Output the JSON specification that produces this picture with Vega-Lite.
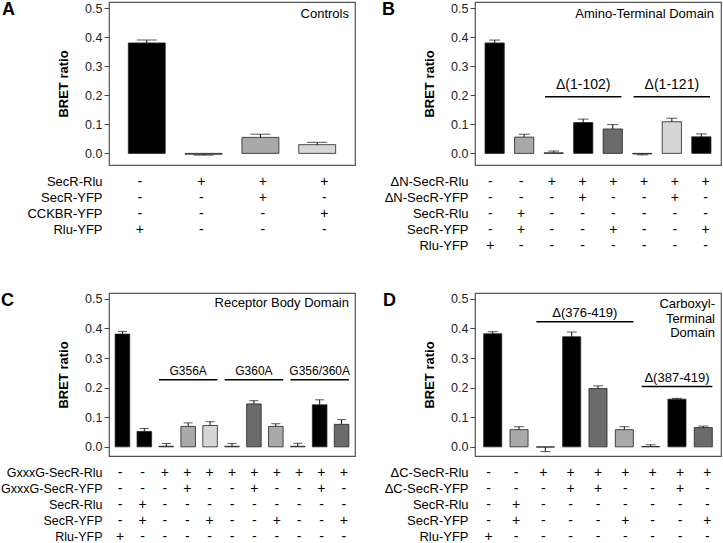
{
  "$schema": "https://vega.github.io/schema/vega-lite/v6.json",
  "background": "white",
  "padding": {"left": 0, "top": 0, "right": 0, "bottom": 0},
  "config": {
    "font": "Liberation Sans",
    "view": {"stroke": "#555", "strokeWidth": 1.2},
    "axis": {"labelColor": "#222", "tickColor": "#444", "titleColor": "#000"},
    "axisY": {"labelOverlap": false},
    "title": {"color": "#000"}
  },
  "datasets": {
    "A": [
      {"bar": 1, "value": 0.38, "err": 0.39, "shade": "k", "SecR-Rlu": "-", "SecR-YFP": "-", "CCKBR-YFP": "-", "Rlu-YFP": "+"},
      {"bar": 2, "value": -0.003, "err": -0.006, "shade": "d", "SecR-Rlu": "+", "SecR-YFP": "-", "CCKBR-YFP": "-", "Rlu-YFP": "-"},
      {"bar": 3, "value": 0.055, "err": 0.066, "shade": "m", "SecR-Rlu": "+", "SecR-YFP": "+", "CCKBR-YFP": "-", "Rlu-YFP": "-"},
      {"bar": 4, "value": 0.03, "err": 0.038, "shade": "l", "SecR-Rlu": "+", "SecR-YFP": "-", "CCKBR-YFP": "+", "Rlu-YFP": "-"}
    ],
    "B": [
      {"bar": 1, "value": 0.38, "err": 0.39, "shade": "k", "ΔN-SecR-Rlu": "-", "ΔN-SecR-YFP": "-", "SecR-Rlu": "-", "SecR-YFP": "-", "Rlu-YFP": "+"},
      {"bar": 2, "value": 0.056, "err": 0.066, "shade": "m", "ΔN-SecR-Rlu": "-", "ΔN-SecR-YFP": "-", "SecR-Rlu": "+", "SecR-YFP": "+", "Rlu-YFP": "-"},
      {"bar": 3, "value": 0.002, "err": 0.008, "shade": "d", "ΔN-SecR-Rlu": "+", "ΔN-SecR-YFP": "-", "SecR-Rlu": "-", "SecR-YFP": "-", "Rlu-YFP": "-"},
      {"bar": 4, "value": 0.106, "err": 0.118, "shade": "k", "ΔN-SecR-Rlu": "+", "ΔN-SecR-YFP": "+", "SecR-Rlu": "-", "SecR-YFP": "-", "Rlu-YFP": "-"},
      {"bar": 5, "value": 0.084, "err": 0.099, "shade": "d", "ΔN-SecR-Rlu": "+", "ΔN-SecR-YFP": "-", "SecR-Rlu": "-", "SecR-YFP": "+", "Rlu-YFP": "-"},
      {"bar": 6, "value": -0.002, "err": -0.005, "shade": "d", "ΔN-SecR-Rlu": "+", "ΔN-SecR-YFP": "-", "SecR-Rlu": "-", "SecR-YFP": "-", "Rlu-YFP": "-"},
      {"bar": 7, "value": 0.109, "err": 0.121, "shade": "l", "ΔN-SecR-Rlu": "+", "ΔN-SecR-YFP": "+", "SecR-Rlu": "-", "SecR-YFP": "-", "Rlu-YFP": "-"},
      {"bar": 8, "value": 0.057, "err": 0.067, "shade": "k", "ΔN-SecR-Rlu": "+", "ΔN-SecR-YFP": "-", "SecR-Rlu": "-", "SecR-YFP": "+", "Rlu-YFP": "-"}
    ],
    "C": [
      {"bar": 1, "value": 0.381, "err": 0.39, "shade": "k", "GxxxG-SecR-Rlu": "-", "GxxxG-SecR-YFP": "-", "SecR-Rlu": "-", "SecR-YFP": "-", "Rlu-YFP": "+"},
      {"bar": 2, "value": 0.052, "err": 0.062, "shade": "k", "GxxxG-SecR-Rlu": "-", "GxxxG-SecR-YFP": "-", "SecR-Rlu": "+", "SecR-YFP": "+", "Rlu-YFP": "-"},
      {"bar": 3, "value": 0.002, "err": 0.011, "shade": "d", "GxxxG-SecR-Rlu": "+", "GxxxG-SecR-YFP": "-", "SecR-Rlu": "-", "SecR-YFP": "-", "Rlu-YFP": "-"},
      {"bar": 4, "value": 0.069, "err": 0.081, "shade": "m", "GxxxG-SecR-Rlu": "+", "GxxxG-SecR-YFP": "+", "SecR-Rlu": "-", "SecR-YFP": "-", "Rlu-YFP": "-"},
      {"bar": 5, "value": 0.072, "err": 0.085, "shade": "l", "GxxxG-SecR-Rlu": "+", "GxxxG-SecR-YFP": "-", "SecR-Rlu": "-", "SecR-YFP": "+", "Rlu-YFP": "-"},
      {"bar": 6, "value": 0.002, "err": 0.011, "shade": "d", "GxxxG-SecR-Rlu": "+", "GxxxG-SecR-YFP": "-", "SecR-Rlu": "-", "SecR-YFP": "-", "Rlu-YFP": "-"},
      {"bar": 7, "value": 0.145, "err": 0.156, "shade": "d", "GxxxG-SecR-Rlu": "+", "GxxxG-SecR-YFP": "+", "SecR-Rlu": "-", "SecR-YFP": "-", "Rlu-YFP": "-"},
      {"bar": 8, "value": 0.069, "err": 0.078, "shade": "m", "GxxxG-SecR-Rlu": "+", "GxxxG-SecR-YFP": "-", "SecR-Rlu": "-", "SecR-YFP": "+", "Rlu-YFP": "-"},
      {"bar": 9, "value": 0.002, "err": 0.012, "shade": "d", "GxxxG-SecR-Rlu": "+", "GxxxG-SecR-YFP": "-", "SecR-Rlu": "-", "SecR-YFP": "-", "Rlu-YFP": "-"},
      {"bar": 10, "value": 0.142, "err": 0.159, "shade": "k", "GxxxG-SecR-Rlu": "+", "GxxxG-SecR-YFP": "+", "SecR-Rlu": "-", "SecR-YFP": "-", "Rlu-YFP": "-"},
      {"bar": 11, "value": 0.076, "err": 0.092, "shade": "d", "GxxxG-SecR-Rlu": "+", "GxxxG-SecR-YFP": "-", "SecR-Rlu": "-", "SecR-YFP": "+", "Rlu-YFP": "-"}
    ],
    "D": [
      {"bar": 1, "value": 0.382, "err": 0.389, "shade": "k", "ΔC-SecR-Rlu": "-", "ΔC-SecR-YFP": "-", "SecR-Rlu": "-", "SecR-YFP": "-", "Rlu-YFP": "+"},
      {"bar": 2, "value": 0.058, "err": 0.068, "shade": "m", "ΔC-SecR-Rlu": "-", "ΔC-SecR-YFP": "-", "SecR-Rlu": "+", "SecR-YFP": "+", "Rlu-YFP": "-"},
      {"bar": 3, "value": -0.001, "err": -0.016, "shade": "d", "ΔC-SecR-Rlu": "+", "ΔC-SecR-YFP": "-", "SecR-Rlu": "-", "SecR-YFP": "-", "Rlu-YFP": "-"},
      {"bar": 4, "value": 0.372, "err": 0.388, "shade": "k", "ΔC-SecR-Rlu": "+", "ΔC-SecR-YFP": "+", "SecR-Rlu": "-", "SecR-YFP": "-", "Rlu-YFP": "-"},
      {"bar": 5, "value": 0.197, "err": 0.206, "shade": "d", "ΔC-SecR-Rlu": "+", "ΔC-SecR-YFP": "+", "SecR-Rlu": "-", "SecR-YFP": "-", "Rlu-YFP": "-"},
      {"bar": 6, "value": 0.058, "err": 0.068, "shade": "m", "ΔC-SecR-Rlu": "+", "ΔC-SecR-YFP": "-", "SecR-Rlu": "-", "SecR-YFP": "+", "Rlu-YFP": "-"},
      {"bar": 7, "value": 0.001, "err": 0.007, "shade": "d", "ΔC-SecR-Rlu": "+", "ΔC-SecR-YFP": "-", "SecR-Rlu": "-", "SecR-YFP": "-", "Rlu-YFP": "-"},
      {"bar": 8, "value": 0.161, "err": 0.164, "shade": "k", "ΔC-SecR-Rlu": "+", "ΔC-SecR-YFP": "+", "SecR-Rlu": "-", "SecR-YFP": "-", "Rlu-YFP": "-"},
      {"bar": 9, "value": 0.065, "err": 0.07, "shade": "d", "ΔC-SecR-Rlu": "+", "ΔC-SecR-YFP": "-", "SecR-Rlu": "-", "SecR-YFP": "+", "Rlu-YFP": "-"}
    ]
  },
  "columns": 2,
  "bounds": "flush",
  "spacing": {"row": 9, "column": 120},
  "concat": [
    {
      "width": 246, "height": 163,
      "title": {"text": "A", "anchor": "start", "frame": "group", "offset": -17, "dx": -107, "fontSize": 18, "fontWeight": "bold"},
      "layer": [
        {
          "data": {"name": "A"},
          "mark": {"type": "bar", "stroke": "#222", "strokeWidth": 0.8},
          "encoding": {
            "x": {"field": "bar", "type": "ordinal", "scale": {"domain": [1, 2, 3, 4], "paddingInner": 0.35, "paddingOuter": 0.34}, "axis": null},
            "y": {"field": "value", "type": "quantitative", "scale": {"domain": [-0.04, 0.521], "nice": false},
                  "axis": {"values": [0, 0.1, 0.2, 0.3, 0.4, 0.5], "tickCount": 6, "format": ".1f", "labelOverlap": false, "title": "BRET ratio", "grid": false, "domain": false, "tickSize": 5, "labelPadding": 2, "labelFontSize": 12.5, "titleFontSize": 13, "titleFontWeight": "bold", "titlePadding": 14}},
            "color": {"field": "shade", "type": "nominal", "scale": {"domain": ["k", "d", "m", "l"], "range": ["#000000", "#6b6b6b", "#a9a9a9", "#d6d6d6"]}, "legend": null}
          }
        },
        {
          "data": {"name": "A"},
          "mark": {"type": "rule", "color": "#111", "strokeWidth": 1},
          "encoding": {"x": {"field": "bar", "type": "ordinal"},
            "y": {"field": "value", "type": "quantitative", "axis": {"values": [0, 0.1, 0.2, 0.3, 0.4, 0.5], "tickCount": 6, "format": ".1f", "labelOverlap": false, "title": "BRET ratio", "grid": false, "domain": false, "tickSize": 5, "labelPadding": 2, "labelFontSize": 12.5, "titleFontSize": 13, "titleFontWeight": "bold", "titlePadding": 14}},
            "y2": {"field": "err"}}
        },
        {
          "data": {"name": "A"},
          "mark": {"type": "tick", "color": "#111", "size": 20, "thickness": 1},
          "encoding": {"x": {"field": "bar", "type": "ordinal"},
            "y": {"field": "err", "type": "quantitative", "axis": {"values": [0, 0.1, 0.2, 0.3, 0.4, 0.5], "tickCount": 6, "format": ".1f", "labelOverlap": false, "title": "BRET ratio", "grid": false, "domain": false, "tickSize": 5, "labelPadding": 2, "labelFontSize": 12.5, "titleFontSize": 13, "titleFontWeight": "bold", "titlePadding": 14}}}
        },
        {
          "data": {"values": [{"name": "Controls"}]},
          "mark": {"type": "text", "align": "right", "baseline": "top", "dx": -6, "fontSize": 13},
          "encoding": {"x": {"value": "width"},
            "y": {"datum": 0.5, "type": "quantitative", "axis": {"values": [0, 0.1, 0.2, 0.3, 0.4, 0.5], "tickCount": 6, "format": ".1f", "labelOverlap": false, "title": "BRET ratio", "grid": false, "domain": false, "tickSize": 5, "labelPadding": 2, "labelFontSize": 12.5, "titleFontSize": 13, "titleFontWeight": "bold", "titlePadding": 14}},
            "text": {"field": "name"}}
        }
      ]
    },
    {
      "width": 246, "height": 163,
      "title": {"text": "B", "anchor": "start", "frame": "group", "offset": -17, "dx": -93, "fontSize": 18, "fontWeight": "bold"},
      "layer": [
        {
          "data": {"name": "B"},
          "mark": {"type": "bar", "stroke": "#222", "strokeWidth": 0.8},
          "encoding": {
            "x": {"field": "bar", "type": "ordinal", "scale": {"domain": [1, 2, 3, 4, 5, 6, 7, 8], "paddingInner": 0.35, "paddingOuter": 0.34}, "axis": null},
            "y": {"field": "value", "type": "quantitative", "scale": {"domain": [-0.04, 0.521], "nice": false},
                  "axis": {"values": [0, 0.1, 0.2, 0.3, 0.4, 0.5], "tickCount": 6, "format": ".1f", "labelOverlap": false, "title": "BRET ratio", "grid": false, "domain": false, "tickSize": 5, "labelPadding": 2, "labelFontSize": 12.5, "titleFontSize": 13, "titleFontWeight": "bold", "titlePadding": 14}},
            "color": {"field": "shade", "type": "nominal", "scale": {"domain": ["k", "d", "m", "l"], "range": ["#000000", "#6b6b6b", "#a9a9a9", "#d6d6d6"]}, "legend": null}
          }
        },
        {
          "data": {"name": "B"},
          "mark": {"type": "rule", "color": "#111", "strokeWidth": 1},
          "encoding": {"x": {"field": "bar", "type": "ordinal"},
            "y": {"field": "value", "type": "quantitative", "axis": {"values": [0, 0.1, 0.2, 0.3, 0.4, 0.5], "tickCount": 6, "format": ".1f", "labelOverlap": false, "title": "BRET ratio", "grid": false, "domain": false, "tickSize": 5, "labelPadding": 2, "labelFontSize": 12.5, "titleFontSize": 13, "titleFontWeight": "bold", "titlePadding": 14}},
            "y2": {"field": "err"}}
        },
        {
          "data": {"name": "B"},
          "mark": {"type": "tick", "color": "#111", "size": 11, "thickness": 1},
          "encoding": {"x": {"field": "bar", "type": "ordinal"},
            "y": {"field": "err", "type": "quantitative", "axis": {"values": [0, 0.1, 0.2, 0.3, 0.4, 0.5], "tickCount": 6, "format": ".1f", "labelOverlap": false, "title": "BRET ratio", "grid": false, "domain": false, "tickSize": 5, "labelPadding": 2, "labelFontSize": 12.5, "titleFontSize": 13, "titleFontWeight": "bold", "titlePadding": 14}}}
        },
        {
          "data": {"values": [{"label": "Δ(1-102)", "from": 3, "to": 5, "mid": 4}, {"label": "Δ(1-121)", "from": 6, "to": 8, "mid": 7}]},
          "layer": [
            {"mark": {"type": "rule", "color": "#000", "strokeWidth": 1.6},
             "encoding": {"x": {"field": "from", "type": "ordinal", "bandPosition": 0.05}, "x2": {"field": "to", "bandPosition": 0.95},
               "y": {"datum": 0.195, "type": "quantitative", "axis": {"values": [0, 0.1, 0.2, 0.3, 0.4, 0.5], "tickCount": 6, "format": ".1f", "labelOverlap": false, "title": "BRET ratio", "grid": false, "domain": false, "tickSize": 5, "labelPadding": 2, "labelFontSize": 12.5, "titleFontSize": 13, "titleFontWeight": "bold", "titlePadding": 14}}}},
            {"mark": {"type": "text", "fontSize": 14, "baseline": "middle"},
             "encoding": {"x": {"field": "mid", "type": "ordinal"},
               "y": {"datum": 0.234, "type": "quantitative", "axis": {"values": [0, 0.1, 0.2, 0.3, 0.4, 0.5], "tickCount": 6, "format": ".1f", "labelOverlap": false, "title": "BRET ratio", "grid": false, "domain": false, "tickSize": 5, "labelPadding": 2, "labelFontSize": 12.5, "titleFontSize": 13, "titleFontWeight": "bold", "titlePadding": 14}},
               "text": {"field": "label"}}}
          ]
        },
        {
          "data": {"values": [{"name": "Amino-Terminal Domain"}]},
          "mark": {"type": "text", "align": "right", "baseline": "top", "dx": -7, "fontSize": 13},
          "encoding": {"x": {"value": "width"},
            "y": {"datum": 0.5, "type": "quantitative", "axis": {"values": [0, 0.1, 0.2, 0.3, 0.4, 0.5], "tickCount": 6, "format": ".1f", "labelOverlap": false, "title": "BRET ratio", "grid": false, "domain": false, "tickSize": 5, "labelPadding": 2, "labelFontSize": 12.5, "titleFontSize": 13, "titleFontWeight": "bold", "titlePadding": 14}},
            "text": {"field": "name"}}
        }
      ]
    },
    {
      "width": 246, "height": 96,
      "view": {"stroke": null},
      "data": {"name": "A"},
      "transform": [{"fold": ["SecR-Rlu", "SecR-YFP", "CCKBR-YFP", "Rlu-YFP"], "as": ["row", "sign"]}],
      "mark": {"type": "text", "fontSize": 14},
      "encoding": {
        "x": {"field": "bar", "type": "ordinal", "scale": {"domain": [1, 2, 3, 4], "paddingInner": 0.35, "paddingOuter": 0.34}, "axis": null},
        "y": {"field": "row", "type": "nominal", "scale": {"type": "band", "domain": ["SecR-Rlu", "SecR-YFP", "CCKBR-YFP", "Rlu-YFP"], "paddingInner": 0, "paddingOuter": 1, "align": 0},
              "axis": {"title": null, "ticks": false, "domain": false, "labelPadding": 7, "labelFontSize": 13, "labelColor": "#000"}},
        "text": {"field": "sign"}
      }
    },
    {
      "width": 246, "height": 110,
      "view": {"stroke": null},
      "data": {"name": "B"},
      "transform": [{"fold": ["ΔN-SecR-Rlu", "ΔN-SecR-YFP", "SecR-Rlu", "SecR-YFP", "Rlu-YFP"], "as": ["row", "sign"]}],
      "mark": {"type": "text", "fontSize": 14},
      "encoding": {
        "x": {"field": "bar", "type": "ordinal", "scale": {"domain": [1, 2, 3, 4, 5, 6, 7, 8], "paddingInner": 0.35, "paddingOuter": 0.34}, "axis": null},
        "y": {"field": "row", "type": "nominal", "scale": {"type": "band", "domain": ["ΔN-SecR-Rlu", "ΔN-SecR-YFP", "SecR-Rlu", "SecR-YFP", "Rlu-YFP"], "paddingInner": 0, "paddingOuter": 0.9375, "align": 0},
              "axis": {"title": null, "ticks": false, "domain": false, "labelPadding": 7, "labelFontSize": 13, "labelColor": "#000"}},
        "text": {"field": "sign"}
      }
    },
    {
      "width": 246, "height": 163,
      "title": {"text": "C", "anchor": "start", "frame": "group", "offset": -17, "dx": -108, "fontSize": 18, "fontWeight": "bold"},
      "layer": [
        {
          "data": {"name": "C"},
          "mark": {"type": "bar", "stroke": "#222", "strokeWidth": 0.8},
          "encoding": {
            "x": {"field": "bar", "type": "ordinal", "scale": {"domain": [1, 2, 3, 4, 5, 6, 7, 8, 9, 10, 11], "paddingInner": 0.335, "paddingOuter": 0.28}, "axis": null},
            "y": {"field": "value", "type": "quantitative", "scale": {"domain": [-0.031, 0.52], "nice": false},
                  "axis": {"values": [0, 0.1, 0.2, 0.3, 0.4, 0.5], "tickCount": 6, "format": ".1f", "labelOverlap": false, "title": "BRET ratio", "grid": false, "domain": false, "tickSize": 5, "labelPadding": 2, "labelFontSize": 12.5, "titleFontSize": 13, "titleFontWeight": "bold", "titlePadding": 14}},
            "color": {"field": "shade", "type": "nominal", "scale": {"domain": ["k", "d", "m", "l"], "range": ["#000000", "#6b6b6b", "#a9a9a9", "#d6d6d6"]}, "legend": null}
          }
        },
        {
          "data": {"name": "C"},
          "mark": {"type": "rule", "color": "#111", "strokeWidth": 1},
          "encoding": {"x": {"field": "bar", "type": "ordinal"},
            "y": {"field": "value", "type": "quantitative", "axis": {"values": [0, 0.1, 0.2, 0.3, 0.4, 0.5], "tickCount": 6, "format": ".1f", "labelOverlap": false, "title": "BRET ratio", "grid": false, "domain": false, "tickSize": 5, "labelPadding": 2, "labelFontSize": 12.5, "titleFontSize": 13, "titleFontWeight": "bold", "titlePadding": 14}},
            "y2": {"field": "err"}}
        },
        {
          "data": {"name": "C"},
          "mark": {"type": "tick", "color": "#111", "size": 9, "thickness": 1},
          "encoding": {"x": {"field": "bar", "type": "ordinal"},
            "y": {"field": "err", "type": "quantitative", "axis": {"values": [0, 0.1, 0.2, 0.3, 0.4, 0.5], "tickCount": 6, "format": ".1f", "labelOverlap": false, "title": "BRET ratio", "grid": false, "domain": false, "tickSize": 5, "labelPadding": 2, "labelFontSize": 12.5, "titleFontSize": 13, "titleFontWeight": "bold", "titlePadding": 14}}}
        },
        {
          "data": {"values": [{"label": "G356A", "from": 3, "to": 5, "mid": 4}, {"label": "G360A", "from": 6, "to": 8, "mid": 7}, {"label": "G356/360A", "from": 9, "to": 11, "mid": 10}]},
          "layer": [
            {"mark": {"type": "rule", "color": "#000", "strokeWidth": 1.6},
             "encoding": {"x": {"field": "from", "type": "ordinal", "bandPosition": 0}, "x2": {"field": "to", "bandPosition": 1},
               "y": {"datum": 0.227, "type": "quantitative", "axis": {"values": [0, 0.1, 0.2, 0.3, 0.4, 0.5], "tickCount": 6, "format": ".1f", "labelOverlap": false, "title": "BRET ratio", "grid": false, "domain": false, "tickSize": 5, "labelPadding": 2, "labelFontSize": 12.5, "titleFontSize": 13, "titleFontWeight": "bold", "titlePadding": 14}}}},
            {"mark": {"type": "text", "fontSize": 12, "baseline": "middle"},
             "encoding": {"x": {"field": "mid", "type": "ordinal"},
               "y": {"datum": 0.257, "type": "quantitative", "axis": {"values": [0, 0.1, 0.2, 0.3, 0.4, 0.5], "tickCount": 6, "format": ".1f", "labelOverlap": false, "title": "BRET ratio", "grid": false, "domain": false, "tickSize": 5, "labelPadding": 2, "labelFontSize": 12.5, "titleFontSize": 13, "titleFontWeight": "bold", "titlePadding": 14}},
               "text": {"field": "label"}}}
          ]
        },
        {
          "data": {"values": [{"name": "Receptor Body Domain"}]},
          "mark": {"type": "text", "align": "right", "baseline": "top", "dx": -6, "fontSize": 13},
          "encoding": {"x": {"value": "width"},
            "y": {"datum": 0.506, "type": "quantitative", "axis": {"values": [0, 0.1, 0.2, 0.3, 0.4, 0.5], "tickCount": 6, "format": ".1f", "labelOverlap": false, "title": "BRET ratio", "grid": false, "domain": false, "tickSize": 5, "labelPadding": 2, "labelFontSize": 12.5, "titleFontSize": 13, "titleFontWeight": "bold", "titlePadding": 14}},
            "text": {"field": "name"}}
        }
      ]
    },
    {
      "width": 246, "height": 163,
      "title": {"text": "D", "anchor": "start", "frame": "group", "offset": -17, "dx": -92, "fontSize": 18, "fontWeight": "bold"},
      "layer": [
        {
          "data": {"name": "D"},
          "mark": {"type": "bar", "stroke": "#222", "strokeWidth": 0.8},
          "encoding": {
            "x": {"field": "bar", "type": "ordinal", "scale": {"domain": [1, 2, 3, 4, 5, 6, 7, 8, 9], "paddingInner": 0.314, "paddingOuter": 0.33}, "axis": null},
            "y": {"field": "value", "type": "quantitative", "scale": {"domain": [-0.031, 0.52], "nice": false},
                  "axis": {"values": [0, 0.1, 0.2, 0.3, 0.4, 0.5], "tickCount": 6, "format": ".1f", "labelOverlap": false, "title": "BRET ratio", "grid": false, "domain": false, "tickSize": 5, "labelPadding": 2, "labelFontSize": 12.5, "titleFontSize": 13, "titleFontWeight": "bold", "titlePadding": 14}},
            "color": {"field": "shade", "type": "nominal", "scale": {"domain": ["k", "d", "m", "l"], "range": ["#000000", "#6b6b6b", "#a9a9a9", "#d6d6d6"]}, "legend": null}
          }
        },
        {
          "data": {"name": "D"},
          "mark": {"type": "rule", "color": "#111", "strokeWidth": 1},
          "encoding": {"x": {"field": "bar", "type": "ordinal"},
            "y": {"field": "value", "type": "quantitative", "axis": {"values": [0, 0.1, 0.2, 0.3, 0.4, 0.5], "tickCount": 6, "format": ".1f", "labelOverlap": false, "title": "BRET ratio", "grid": false, "domain": false, "tickSize": 5, "labelPadding": 2, "labelFontSize": 12.5, "titleFontSize": 13, "titleFontWeight": "bold", "titlePadding": 14}},
            "y2": {"field": "err"}}
        },
        {
          "data": {"name": "D"},
          "mark": {"type": "tick", "color": "#111", "size": 10, "thickness": 1},
          "encoding": {"x": {"field": "bar", "type": "ordinal"},
            "y": {"field": "err", "type": "quantitative", "axis": {"values": [0, 0.1, 0.2, 0.3, 0.4, 0.5], "tickCount": 6, "format": ".1f", "labelOverlap": false, "title": "BRET ratio", "grid": false, "domain": false, "tickSize": 5, "labelPadding": 2, "labelFontSize": 12.5, "titleFontSize": 13, "titleFontWeight": "bold", "titlePadding": 14}}}
        },
        {
          "data": {"values": [{"label": "Δ(376-419)", "from": 3, "to": 6, "mid": 4}]},
          "layer": [
            {"mark": {"type": "rule", "color": "#000", "strokeWidth": 1.6},
             "encoding": {"x": {"field": "from", "type": "ordinal", "bandPosition": 0}, "x2": {"field": "to", "bandPosition": 1},
               "y": {"datum": 0.423, "type": "quantitative", "axis": {"values": [0, 0.1, 0.2, 0.3, 0.4, 0.5], "tickCount": 6, "format": ".1f", "labelOverlap": false, "title": "BRET ratio", "grid": false, "domain": false, "tickSize": 5, "labelPadding": 2, "labelFontSize": 12.5, "titleFontSize": 13, "titleFontWeight": "bold", "titlePadding": 14}}}},
            {"mark": {"type": "text", "fontSize": 13, "baseline": "middle"},
             "encoding": {"x": {"field": "mid", "type": "ordinal", "bandPosition": 1.229},
               "y": {"datum": 0.454, "type": "quantitative", "axis": {"values": [0, 0.1, 0.2, 0.3, 0.4, 0.5], "tickCount": 6, "format": ".1f", "labelOverlap": false, "title": "BRET ratio", "grid": false, "domain": false, "tickSize": 5, "labelPadding": 2, "labelFontSize": 12.5, "titleFontSize": 13, "titleFontWeight": "bold", "titlePadding": 14}},
               "text": {"field": "label"}}}
          ]
        },
        {
          "data": {"values": [{"label": "Δ(387-419)", "from": 7, "to": 9, "mid": 8}]},
          "layer": [
            {"mark": {"type": "rule", "color": "#000", "strokeWidth": 1.6},
             "encoding": {"x": {"field": "from", "type": "ordinal", "bandPosition": 0}, "x2": {"field": "to", "bandPosition": 1},
               "y": {"datum": 0.204, "type": "quantitative", "axis": {"values": [0, 0.1, 0.2, 0.3, 0.4, 0.5], "tickCount": 6, "format": ".1f", "labelOverlap": false, "title": "BRET ratio", "grid": false, "domain": false, "tickSize": 5, "labelPadding": 2, "labelFontSize": 12.5, "titleFontSize": 13, "titleFontWeight": "bold", "titlePadding": 14}}}},
            {"mark": {"type": "text", "fontSize": 13, "baseline": "middle"},
             "encoding": {"x": {"field": "mid", "type": "ordinal"},
               "y": {"datum": 0.232, "type": "quantitative", "axis": {"values": [0, 0.1, 0.2, 0.3, 0.4, 0.5], "tickCount": 6, "format": ".1f", "labelOverlap": false, "title": "BRET ratio", "grid": false, "domain": false, "tickSize": 5, "labelPadding": 2, "labelFontSize": 12.5, "titleFontSize": 13, "titleFontWeight": "bold", "titlePadding": 14}},
               "text": {"field": "label"}}}
          ]
        },
        {
          "data": {"values": [{"name": ["Carboxyl-", "Terminal", "Domain"]}]},
          "mark": {"type": "text", "align": "right", "baseline": "top", "dx": -6, "fontSize": 13, "lineHeight": 14.7},
          "encoding": {"x": {"value": "width"},
            "y": {"datum": 0.503, "type": "quantitative", "axis": {"values": [0, 0.1, 0.2, 0.3, 0.4, 0.5], "tickCount": 6, "format": ".1f", "labelOverlap": false, "title": "BRET ratio", "grid": false, "domain": false, "tickSize": 5, "labelPadding": 2, "labelFontSize": 12.5, "titleFontSize": 13, "titleFontWeight": "bold", "titlePadding": 14}},
            "text": {"field": "name"}}
        }
      ]
    },
    {
      "width": 246, "height": 80,
      "view": {"stroke": null},
      "data": {"name": "C"},
      "transform": [{"fold": ["GxxxG-SecR-Rlu", "GxxxG-SecR-YFP", "SecR-Rlu", "SecR-YFP", "Rlu-YFP"], "as": ["row", "sign"]}],
      "mark": {"type": "text", "fontSize": 14},
      "encoding": {
        "x": {"field": "bar", "type": "ordinal", "scale": {"domain": [1, 2, 3, 4, 5, 6, 7, 8, 9, 10, 11], "paddingInner": 0.335, "paddingOuter": 0.28}, "axis": null},
        "y": {"field": "row", "type": "nominal", "scale": {"type": "band", "domain": ["GxxxG-SecR-Rlu", "GxxxG-SecR-YFP", "SecR-Rlu", "SecR-YFP", "Rlu-YFP"], "paddingInner": 0, "paddingOuter": 0, "align": 0},
              "axis": {"title": null, "ticks": false, "domain": false, "labelPadding": 7, "labelFontSize": 12.5, "labelColor": "#000"}},
        "text": {"field": "sign"}
      }
    },
    {
      "width": 246, "height": 80,
      "view": {"stroke": null},
      "data": {"name": "D"},
      "transform": [{"fold": ["ΔC-SecR-Rlu", "ΔC-SecR-YFP", "SecR-Rlu", "SecR-YFP", "Rlu-YFP"], "as": ["row", "sign"]}],
      "mark": {"type": "text", "fontSize": 14},
      "encoding": {
        "x": {"field": "bar", "type": "ordinal", "scale": {"domain": [1, 2, 3, 4, 5, 6, 7, 8, 9], "paddingInner": 0.314, "paddingOuter": 0.33}, "axis": null},
        "y": {"field": "row", "type": "nominal", "scale": {"type": "band", "domain": ["ΔC-SecR-Rlu", "ΔC-SecR-YFP", "SecR-Rlu", "SecR-YFP", "Rlu-YFP"], "paddingInner": 0, "paddingOuter": 0, "align": 0},
              "axis": {"title": null, "ticks": false, "domain": false, "labelPadding": 7, "labelFontSize": 13, "labelColor": "#000"}},
        "text": {"field": "sign"}
      }
    }
  ]
}
